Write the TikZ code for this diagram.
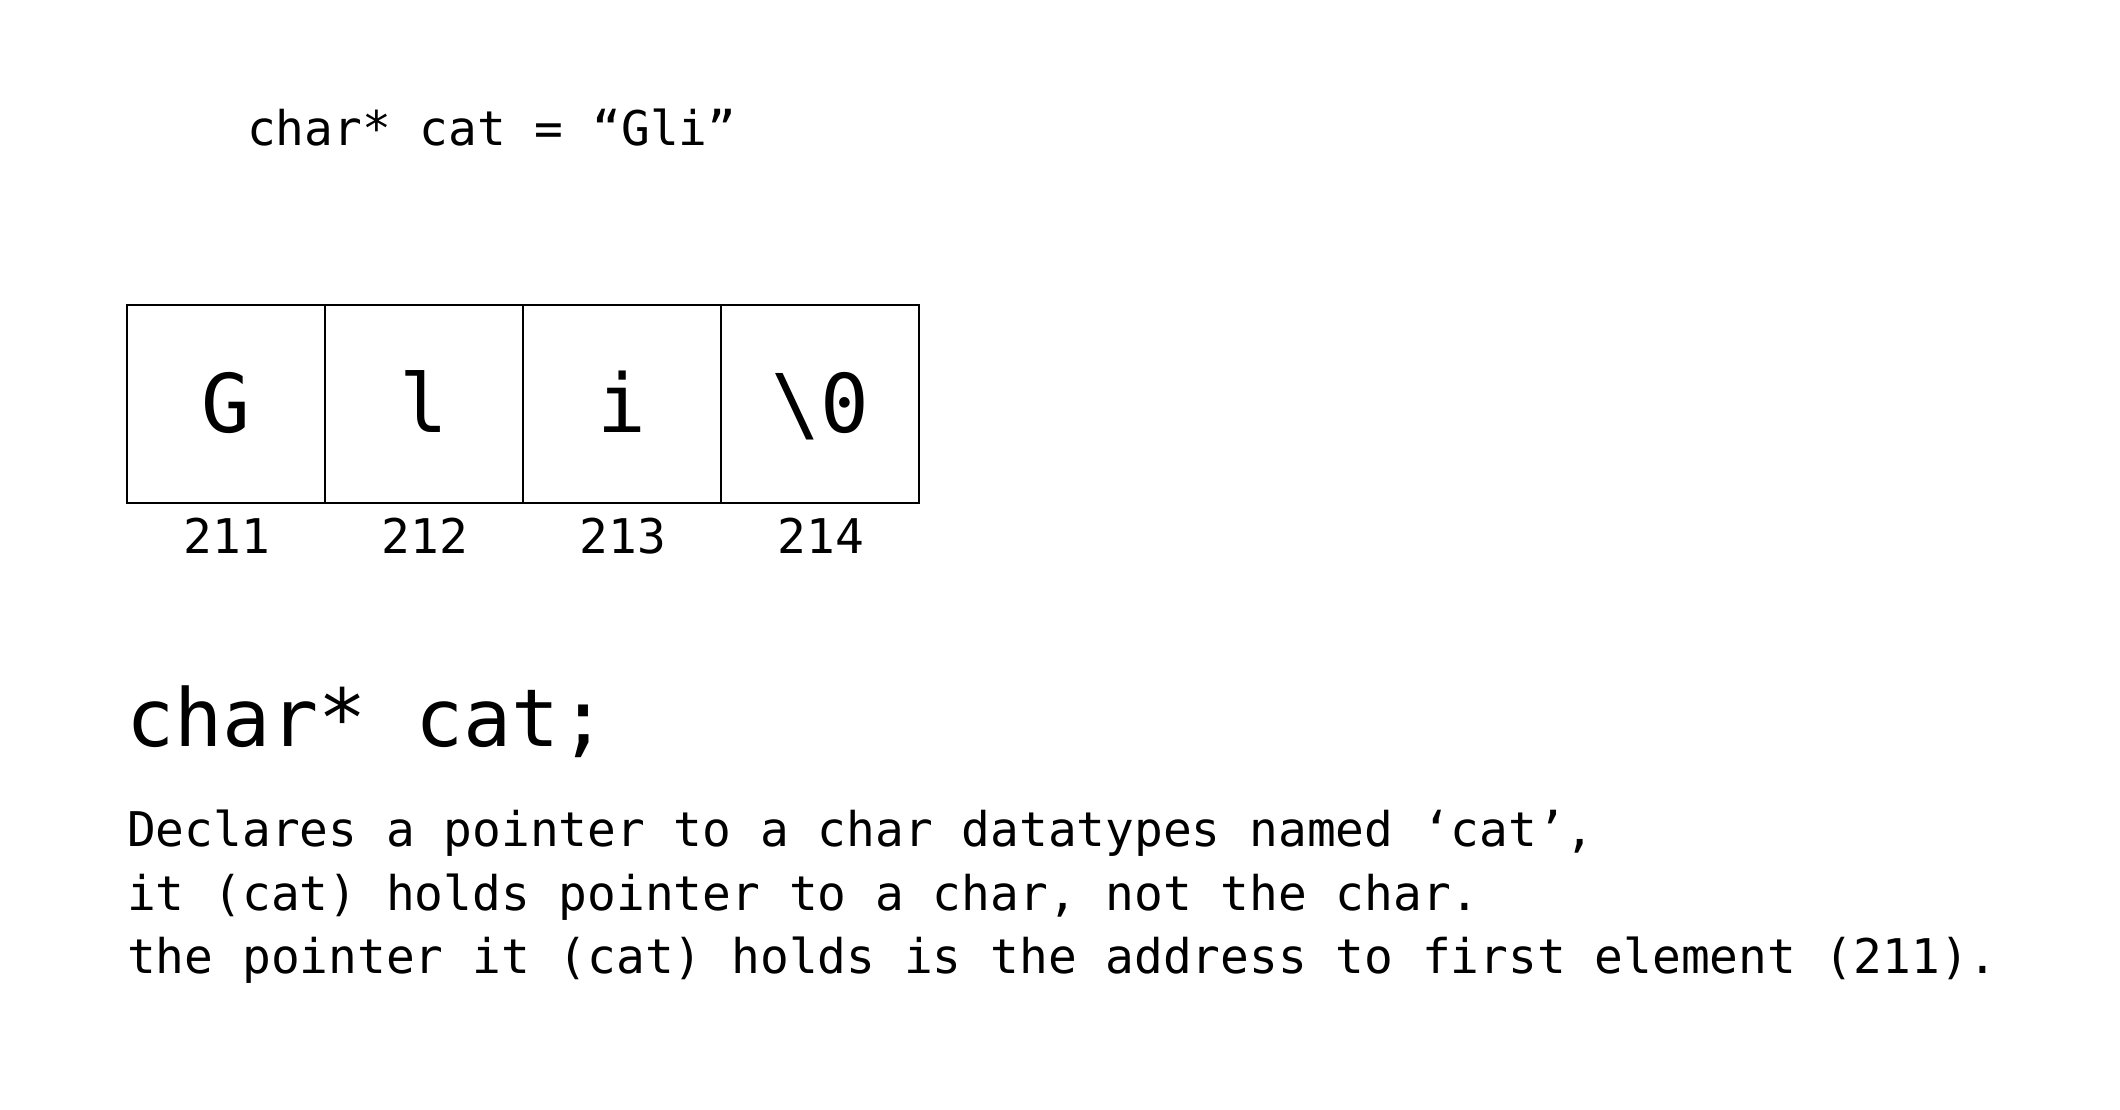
\documentclass[tikz,border=0pt]{standalone}
\usepackage{fontspec}
\setmainfont{DejaVu Sans Mono}
\newfontfamily\codefont{DejaVu Sans Mono}
\tikzset{
  cell/.style={draw=black, line width=2pt, minimum width=198pt, minimum height=198pt, inner sep=0pt, outer sep=0pt, font=\codefont\fontsize{81}{90}\selectfont, text depth=0pt},
  glyph/.style={anchor=base, inner sep=0pt, font=\codefont\fontsize{81}{90}\selectfont},
  addr/.style={anchor=base, inner sep=0pt, font=\codefont\fontsize{47.8}{57}\selectfont},
  body/.style={anchor=base west, inner sep=0pt, font=\codefont\fontsize{47.8}{57}\selectfont},
  title/.style={anchor=base west, inner sep=0pt, font=\codefont\fontsize{80}{90}\selectfont}
}
\begin{document}
\begin{tikzpicture}[x=1pt,y=-1pt]
\useasboundingbox (0,0) rectangle (2120,1110);
\node[body] (decl) at (247,146) {char* cat = “Gli”};
% cells
\node[cell] (c1) at (226,404) {};
\node[cell] (c2) at (424,404) {};
\node[cell] (c3) at (622,404) {};
\node[cell] (c4) at (820,404) {};
\node[glyph] (g1) at (226,432) {G};
\node[glyph] (g2) at (424,432) {l};
\node[glyph] (g3) at (622,432) {i};
\node[glyph] (g4) at (820,432) {\textbackslash 0};
\node[addr] (a1) at (227,553) {211};
\node[addr] (a2) at (425,553) {212};
\node[addr] (a3) at (623,553) {213};
\node[addr] (a4) at (821,553) {214};
\node[title] (head) at (126,746) {char* cat;};
\node[body] (l1) at (127,846) {Declares a pointer to a char datatypes named ‘cat’,};
\node[body] (l2) at (127,910) {it (cat) holds pointer to a char, not the char.};
\node[body] (l3) at (127,973) {the pointer it (cat) holds is the address to first element (211).};
\end{tikzpicture}
\end{document}
